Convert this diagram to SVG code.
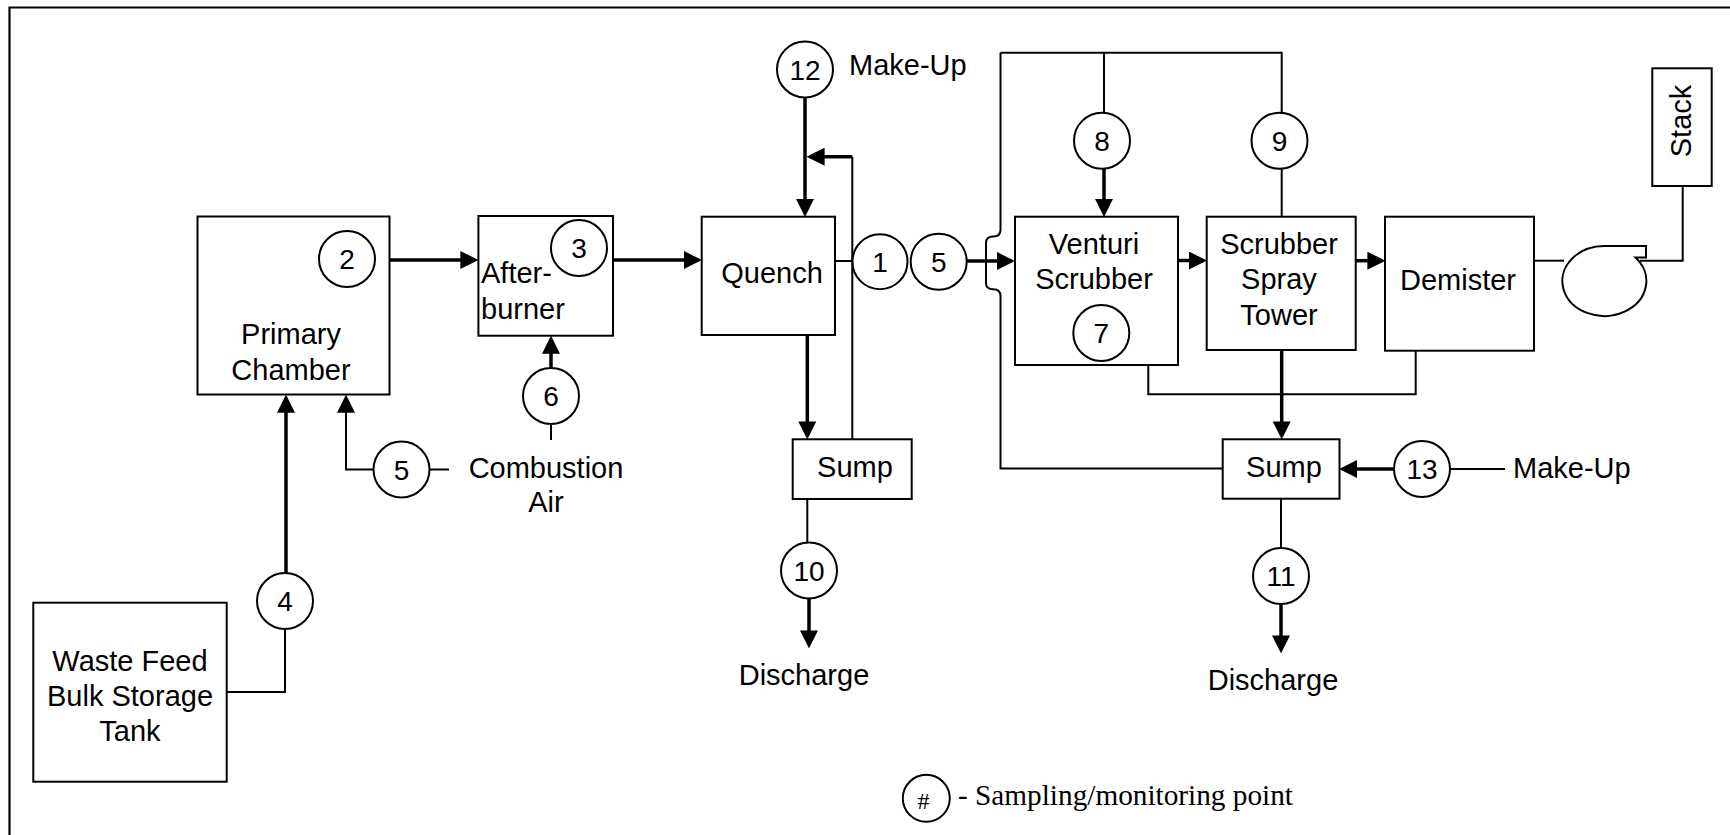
<svg xmlns="http://www.w3.org/2000/svg" width="1730" height="835" viewBox="0 0 1730 835">
<style>
.box{fill:#fff;stroke:#000;stroke-width:2}
.pt{fill:#fff;stroke:#000;stroke-width:2}
.thin{fill:none;stroke:#000;stroke-width:2}
.thick{fill:none;stroke:#000;stroke-width:3.5}
.lbl{font-family:"Liberation Sans",Arial,sans-serif;font-size:29px;fill:#000}
.num{font-family:"Liberation Sans",Arial,sans-serif;font-size:28px;fill:#000;text-anchor:middle}
.mid{text-anchor:middle}
.leg{font-family:"Liberation Serif","Times New Roman",serif;fill:#000}
</style>
<defs>
<marker id="ah" markerUnits="userSpaceOnUse" markerWidth="18" markerHeight="18" viewBox="0 0 16 16" refX="13" refY="8" orient="auto">
<path d="M0,0 L16,8 L0,16 z" fill="#000"/>
</marker>
</defs>
<rect width="1730" height="835" fill="#fff"/>
<path d="M9.5,835 V7.5 H1730" fill="none" stroke="#000" stroke-width="2.2"/>

<g id="connectors">
<!-- 4 -> primary -->
<path class="thick" d="M286,573 V398" marker-end="url(#ah)"/>
<path class="thin" d="M285,629 V692 H226.7"/>
<!-- 5 combustion air -> primary -->
<path class="thin" d="M373.5,469.5 H346 V398" marker-end="url(#ah)"/>
<path class="thin" d="M430,469.5 H449"/>
<!-- 6 -> afterburner -->
<path class="thick" d="M551,368 V339" marker-end="url(#ah)"/>
<path class="thin" d="M551,424 V440"/>
<!-- primary -> afterburner -->
<path class="thick" d="M389.5,260 H475" marker-end="url(#ah)"/>
<!-- afterburner -> quench -->
<path class="thick" d="M613,260 H698.5" marker-end="url(#ah)"/>
<!-- 12 -> quench -->
<path class="thick" d="M805,98 V213.5" marker-end="url(#ah)"/>
<!-- recycle -->
<path class="thin" d="M852.3,439.3 V156.7"/>
<path class="thick" d="M852.3,156.7 H810" marker-end="url(#ah)"/>
<!-- quench -> sump -->
<path class="thick" d="M807.3,335 V436" marker-end="url(#ah)"/>
<path class="thin" d="M807.3,499 V542"/>
<path class="thick" d="M809,598 V645" marker-end="url(#ah)"/>
<!-- quench -> 1 -->
<path class="thin" d="M835,261 H852.3"/>
<!-- 5 -> venturi -->
<path class="thick" d="M967,261 H1011.5" marker-end="url(#ah)"/>
<!-- scrubber liquid loop with hop -->
<path class="thin" d="M1000.5,52.7 V230 Q1000.5,236.5 993,236.5 Q986,236.5 986,243 V283 Q986,289.3 993,289.3 Q1000.5,289.3 1000.5,296 V468.5 H1222.7"/>
<path class="thin" d="M1000.5,52.7 H1281.7 V112.7"/>
<path class="thin" d="M1104,52.7 V112.7"/>
<path class="thick" d="M1104,169 V213.5" marker-end="url(#ah)"/>
<path class="thin" d="M1281.7,169 V216.7"/>
<!-- venturi -> spray tower -->
<path class="thick" d="M1178,260.5 H1203.5" marker-end="url(#ah)"/>
<!-- spray -> demister -->
<path class="thick" d="M1355.7,260.7 H1382" marker-end="url(#ah)"/>
<!-- drains -->
<path class="thin" d="M1148.3,365 V394.3 H1415.7 V350.7"/>
<path class="thick" d="M1281.7,350 V436" marker-end="url(#ah)"/>
<!-- 13 -> sump -->
<path class="thick" d="M1394,469 H1342.5" marker-end="url(#ah)"/>
<path class="thin" d="M1450,469 H1505"/>
<!-- sump -> 11 -> discharge -->
<path class="thin" d="M1281,498.7 V547"/>
<path class="thick" d="M1281,604 V650" marker-end="url(#ah)"/>
<!-- demister -> fan -> stack -->
<path class="thin" d="M1534,260.7 H1564"/>
<path class="thin" d="M1640,260.7 H1682.7 V186"/>
</g>

<g id="waste-feed">
<rect class="box" x="33.3" y="602.7" width="193.4" height="179"/>
<text class="lbl mid" x="130" y="671">Waste Feed</text>
<text class="lbl mid" x="130" y="706">Bulk Storage</text>
<text class="lbl mid" x="130" y="741">Tank</text>
</g>
<g id="primary-chamber">
<rect class="box" x="197.5" y="216.5" width="192" height="178"/>
<text class="lbl mid" x="291" y="344">Primary</text>
<text class="lbl mid" x="291" y="379.5">Chamber</text>
</g>
<g id="afterburner">
<rect class="box" x="478.4" y="216" width="134.6" height="119.7"/>
<text class="lbl" x="481" y="283">After-</text>
<text class="lbl" x="481" y="319">burner</text>
</g>
<g id="quench">
<rect class="box" x="701.7" y="216.7" width="133.3" height="118.3"/>
<text class="lbl mid" x="772" y="283">Quench</text>
</g>
<g id="sump-quench">
<rect class="box" x="792.7" y="439.3" width="119" height="59.7"/>
<text class="lbl mid" x="855" y="477">Sump</text>
</g>
<g id="venturi">
<rect class="box" x="1015" y="216.7" width="163" height="148.3"/>
<text class="lbl mid" x="1094" y="254">Venturi</text>
<text class="lbl mid" x="1094" y="288.5">Scrubber</text>
</g>
<g id="spray-tower">
<rect class="box" x="1206.7" y="216.7" width="149" height="133.3"/>
<text class="lbl mid" x="1279" y="254">Scrubber</text>
<text class="lbl mid" x="1279" y="289">Spray</text>
<text class="lbl mid" x="1279" y="325">Tower</text>
</g>
<g id="demister">
<rect class="box" x="1385" y="216.7" width="149" height="134"/>
<text class="lbl mid" x="1458" y="289.5">Demister</text>
</g>
<g id="sump-scrubber">
<rect class="box" x="1222.7" y="439.3" width="116.8" height="59.4"/>
<text class="lbl mid" x="1284" y="477">Sump</text>
</g>
<g id="fan">
<path class="thin" d="M1605,246 H1646 V257.5 H1635.5 A42,35 0 1 1 1605,246 Z"/>
</g>
<g id="stack">
<rect class="box" x="1652.3" y="68.3" width="59.4" height="117.7"/>
<text class="lbl mid" transform="translate(1691,121) rotate(-90)">Stack</text>
</g>

<g id="labels">
<text class="lbl" x="849" y="75">Make-Up</text>
<text class="lbl" x="1513" y="478">Make-Up</text>
<text class="lbl mid" x="546" y="478">Combustion</text>
<text class="lbl mid" x="546" y="512">Air</text>
<text class="lbl mid" x="804" y="685">Discharge</text>
<text class="lbl mid" x="1273" y="690">Discharge</text>
</g>

<g id="p1"><circle class="pt" cx="880" cy="261.7" r="27.5"/><text class="num" x="880" y="271.7">1</text></g>
<g id="p2"><circle class="pt" cx="347" cy="259" r="28"/><text class="num" x="347" y="269">2</text></g>
<g id="p3"><circle class="pt" cx="579" cy="248" r="28"/><text class="num" x="579" y="258">3</text></g>
<g id="p4"><circle class="pt" cx="285" cy="601" r="28"/><text class="num" x="285" y="611">4</text></g>
<g id="p5a"><circle class="pt" cx="401.5" cy="469.5" r="28"/><text class="num" x="401.5" y="479.5">5</text></g>
<g id="p5b"><circle class="pt" cx="938.7" cy="261.7" r="28"/><text class="num" x="938.7" y="271.7">5</text></g>
<g id="p6"><circle class="pt" cx="551" cy="396" r="28"/><text class="num" x="551" y="406">6</text></g>
<g id="p7"><circle class="pt" cx="1101.3" cy="333" r="28"/><text class="num" x="1101.3" y="343">7</text></g>
<g id="p8"><circle class="pt" cx="1102" cy="140.7" r="28"/><text class="num" x="1102" y="150.7">8</text></g>
<g id="p9"><circle class="pt" cx="1279.5" cy="140.7" r="28"/><text class="num" x="1279.5" y="150.7">9</text></g>
<g id="p10"><circle class="pt" cx="809" cy="570.5" r="28"/><text class="num" x="809" y="580.5">10</text></g>
<g id="p11"><circle class="pt" cx="1281" cy="576" r="28"/><text class="num" x="1281" y="586">11</text></g>
<g id="p12"><circle class="pt" cx="805" cy="69.5" r="28"/><text class="num" x="805" y="79.5">12</text></g>
<g id="p13"><circle class="pt" cx="1422" cy="469" r="28"/><text class="num" x="1422" y="479">13</text></g>

<g id="legend">
<circle class="pt" cx="926.3" cy="798.3" r="23.5"/>
<text class="leg" x="923.5" y="809" font-size="24" text-anchor="middle">#</text>
<text class="leg" x="958" y="805" font-size="30" textLength="335" lengthAdjust="spacingAndGlyphs">- Sampling/monitoring point</text>
</g>
</svg>
